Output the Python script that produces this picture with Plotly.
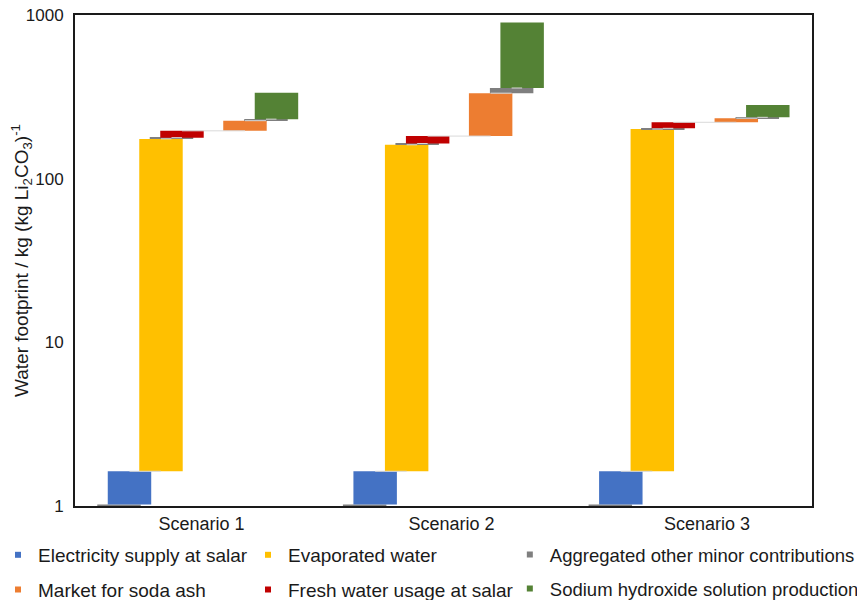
import plotly.graph_objects as go

# ---------------- data ----------------
scenarios = ["Scenario 1", "Scenario 2", "Scenario 3"]

# waterfall steps, in drawing order within each scenario
step_names = [
    "Aggregated other minor contributions",
    "Electricity supply at salar",
    "Evaporated water",
    "Aggregated other minor contributions",
    "Fresh water usage at salar",
    "Market for soda ash",
    "Aggregated other minor contributions",
    "Sodium hydroxide solution production",
]

# step values (kg water per kg Li2CO3) for each scenario
steps_s1 = [1.02, 0.61, 173.4, 3.0, 18.0, 30.0, 5.0, 104.0]
steps_s2 = [1.02, 0.61, 159.4, 3.0, 18.0, 151.0, 25.0, 543.0]
steps_s3 = [1.02, 0.61, 199.4, 2.0, 18.0, 13.0, 3.0, 45.0]
steps = [steps_s1, steps_s2, steps_s3]

legend_cols = [
    ["Electricity supply at salar", "Market for soda ash"],
    ["Evaporated water", "Fresh water usage at salar"],
    ["Aggregated other minor contributions", "Sodium hydroxide solution production"],
]

y_ticks = [1, 10, 100, 1000]
y_ticktext = ["1", "10", "100", "1000"]

# ---------------- styling / layout ----------------
colors = {
    "Electricity supply at salar": "#4472C4",
    "Evaporated water": "#FFC000",
    "Aggregated other minor contributions": "#7F7F7F",
    "Market for soda ash": "#ED7D31",
    "Fresh water usage at salar": "#C00000",
    "Sodium hydroxide solution production": "#548235",
}

slots = [4, 5, 8, 9, 10, 16, 18, 19]   # slot index of each step inside a scenario block
SCEN_W = 23.4                            # slots per scenario block
SLOT_OFF = 0.19
BAR_W = 4.14
label_pos = [12.05, 35.86, 60.19]

FONT = "Liberation Sans, Arial, sans-serif"

fig = go.Figure()

# connectors (behind the bars)
cx, cy = [], []
for s, vals in enumerate(steps):
    cum = 0.0
    tops = []
    for v in vals:
        cum += v
        tops.append(cum)
    for i in range(1, len(vals) - 1):
        x0 = s * SCEN_W + SLOT_OFF + slots[i]
        x1 = s * SCEN_W + SLOT_OFF + slots[i + 1]
        cx += [x0, x1, None]
        cy += [tops[i], tops[i], None]
fig.add_trace(go.Scatter(x=cx, y=cy, mode="lines",
                         line=dict(color="#D9D9D9", width=1),
                         hoverinfo="skip", showlegend=False))

# bars
for s, vals in enumerate(steps):
    cum = 0.0
    for i, v in enumerate(vals):
        base = cum if cum > 0 else 1e-6
        name = step_names[i]
        fig.add_trace(go.Bar(
            x=[s * SCEN_W + SLOT_OFF + slots[i]],
            y=[v if cum > 0 else v - 1e-6],
            base=[base],
            width=BAR_W,
            marker=dict(color=colors[name], line=dict(width=0)),
            name=name,
            showlegend=False,
            hovertemplate=f"{scenarios[s]}<br>{name}: {v}<extra></extra>",
        ))
        cum += v

# legend entries (three columns)
legend_ids = ["legend", "legend2", "legend3"]
for c, col in enumerate(legend_cols):
    for k, name in enumerate(col):
        fig.add_trace(go.Scatter(
            x=[None], y=[None], mode="markers",
            marker=dict(symbol="square", size=6, color=colors[name]),
            name=name, legend=legend_ids[c], legendgroup=name,
            showlegend=True,
        ))

leg_common = dict(orientation="v", yanchor="top", y=-0.061, xanchor="left",
                  bgcolor="rgba(0,0,0,0)", traceorder="grouped",
                  tracegroupgap=7, itemwidth=30)

fig.update_layout(
    width=873, height=608,
    margin=dict(l=67, r=69, t=7, b=110, autoexpand=False),
    paper_bgcolor="white", plot_bgcolor="white",
    barmode="overlay",
    font=dict(family=FONT, color="#1a1a1a"),
    legend=dict(x=-0.1045, font=dict(family=FONT, size=19, color="#1a1a1a"), **leg_common),
    legend2=dict(x=0.2347, font=dict(family=FONT, size=19, color="#1a1a1a"), **leg_common),
    legend3=dict(x=0.590, font=dict(family=FONT, size=18.5, color="#1a1a1a"), **leg_common),
    xaxis=dict(range=[0, 3 * SCEN_W], showgrid=False, zeroline=False,
               showline=True, linecolor="#1a1a1a", linewidth=2, mirror=True,
               tickmode="array", tickvals=label_pos, ticktext=scenarios,
               ticks="", tickfont=dict(family=FONT, size=18, color="#1a1a1a")),
    yaxis=dict(type="log", range=[0, 3], showgrid=False, zeroline=False,
               showline=True, linecolor="#1a1a1a", linewidth=2, mirror=True,
               tickmode="array", tickvals=y_ticks, ticktext=y_ticktext,
               ticks="", ticklabelstandoff=6, ticklabeloverflow="allow",
               tickfont=dict(family=FONT, size=17, color="#1a1a1a"),
               title=dict(text="Water footprint / kg (kg Li<sub>2</sub>CO<sub>3</sub>)<sup>-1</sup>"
                               + "\u00a0" * 5,
                          font=dict(family=FONT, size=19, color="#1a1a1a"),
                          standoff=4)),
)

fig.write_html("out.html")
